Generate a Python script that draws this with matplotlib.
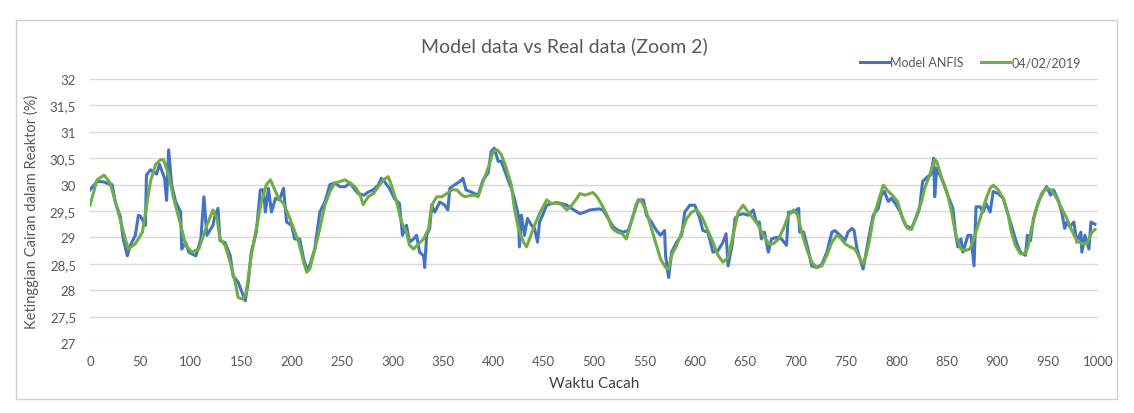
import matplotlib

matplotlib.use("Agg")
import matplotlib.pyplot as plt
from matplotlib.patches import Rectangle
from matplotlib.ticker import FuncFormatter

# Model ANFIS (blue)
model_x = [0, 7, 14, 20, 22, 25, 30, 33, 37, 40, 45, 48, 50, 55, 56, 60, 66, 69, 74, 76, 78, 81,
           85, 90, 91, 95, 98, 105, 110, 113, 116, 122, 124, 127, 129, 134, 139, 142, 147, 152,
           154, 157, 160, 165, 169, 172, 174, 177, 180, 184, 188, 192, 195, 200, 203, 208, 212,
           215, 218, 223, 228, 233, 238, 243, 248, 253, 258, 263, 266, 272, 276, 281, 286, 289,
           292, 297, 302, 307, 310, 314, 317, 321, 324, 327, 331, 332, 334, 337, 339, 342, 347,
           352, 355, 357, 362, 367, 370, 373, 378, 385, 390, 395, 398, 401, 405, 408, 413, 418,
           421, 425, 426, 428, 431, 434, 438, 441, 444, 446, 449, 453, 458, 463, 468, 473, 480,
           486, 491, 496, 505, 509, 514, 519, 524, 529, 534, 539, 544, 549, 552, 557, 562, 566,
           570, 571, 574, 577, 582, 587, 590, 595, 600, 605, 608, 613, 618, 623, 628, 631, 633,
           637, 640, 643, 648, 653, 658, 661, 664, 666, 669, 673, 676, 681, 686, 691, 693, 698,
           703, 704, 708, 713, 716, 721, 726, 731, 736, 739, 744, 749, 752, 756, 758, 761, 764,
           767, 770, 773, 777, 782, 785, 788, 792, 795, 799, 804, 809, 815, 820, 823, 826, 831,
           834, 837, 838, 840, 846, 851, 856, 859, 861, 864, 866, 871, 874, 877, 879, 883, 886,
           889, 893, 896, 901, 906, 911, 916, 919, 923, 928, 930, 933, 936, 941, 946, 949, 953,
           956, 961, 964, 967, 969, 972, 976, 979, 983, 984, 987, 991, 993, 997]
model_y = [29.90, 30.06, 30.05, 30.00, 30.00, 29.67, 29.40, 28.97, 28.65, 28.85, 29.04, 29.42,
           29.40, 29.23, 30.18, 30.28, 30.20, 30.38, 30.12, 29.70, 30.66, 30.00, 29.67, 29.48,
           28.78, 28.90, 28.72, 28.65, 28.97, 29.77, 29.04, 29.23, 29.42, 29.55, 28.94, 28.90,
           28.66, 28.27, 28.15, 27.90, 27.80, 28.15, 28.72, 29.10, 29.90, 29.90, 29.48, 29.93,
           29.48, 29.74, 29.71, 29.93, 29.29, 29.23, 28.97, 28.97, 28.59, 28.40, 28.47, 28.78,
           29.48, 29.67, 30.00, 30.03, 29.96, 29.96, 30.03, 29.90, 29.83, 29.80, 29.86, 29.90,
           29.99, 30.12, 30.06, 29.93, 29.74, 29.64, 29.04, 29.23, 28.91, 28.97, 29.04, 28.72,
           28.65, 28.43, 29.04, 29.17, 29.61, 29.48, 29.67, 29.61, 29.52, 29.93, 30.00, 30.06,
           30.12, 29.90, 29.86, 29.80, 30.09, 30.22, 30.63, 30.69, 30.44, 30.44, 30.18, 29.93,
           29.74, 29.42, 28.82, 29.42, 29.04, 29.36, 29.23, 29.17, 28.91, 29.29, 29.42, 29.61,
           29.64, 29.66, 29.64, 29.61, 29.52, 29.45, 29.48, 29.52, 29.54, 29.52, 29.36, 29.20,
           29.13, 29.10, 29.13, 29.42, 29.71, 29.71, 29.42, 29.29, 29.13, 29.04, 29.13, 28.66,
           28.24, 28.72, 28.91, 29.04, 29.48, 29.61, 29.61, 29.36, 29.13, 29.10, 28.72, 28.75,
           28.91, 29.07, 28.46, 28.85, 29.36, 29.42, 29.45, 29.42, 29.52, 29.29, 29.29, 28.97,
           29.10, 28.72, 28.97, 29.00, 28.97, 28.85, 29.48, 29.48, 29.55, 29.10, 29.10, 28.72,
           28.46, 28.43, 28.49, 28.72, 29.10, 29.13, 29.04, 28.94, 29.10, 29.17, 29.13, 28.78,
           28.59, 28.40, 28.72, 29.04, 29.42, 29.55, 29.80, 29.87, 29.68, 29.74, 29.64, 29.48,
           29.23, 29.17, 29.39, 29.55, 30.06, 30.15, 30.18, 30.50, 29.77, 30.31, 30.06, 29.80,
           29.55, 29.04, 28.82, 28.97, 28.72, 29.04, 29.04, 28.46, 29.58, 29.58, 29.48, 29.64,
           29.48, 29.87, 29.83, 29.74, 29.42, 29.10, 28.91, 28.72, 28.66, 29.04, 28.94, 29.36,
           29.68, 29.87, 29.96, 29.80, 29.90, 29.68, 29.48, 29.17, 29.29, 29.20, 29.29, 28.91,
           29.10, 28.72, 29.04, 28.78, 29.29, 29.25]

# 04/02/2019 real data (green)
real_x = [0, 7, 14, 20, 28, 35, 38, 45, 52, 60, 65, 70, 73, 78, 83, 90, 95, 101, 108, 116, 122,
          126, 129, 134, 139, 144, 147, 152, 155, 160, 165, 170, 175, 179, 182, 187, 192, 197,
          202, 207, 212, 215, 218, 223, 228, 233, 238, 243, 248, 253, 258, 263, 268, 271, 276,
          281, 286, 291, 296, 299, 304, 309, 314, 317, 321, 326, 331, 336, 339, 344, 349, 354,
          359, 364, 369, 372, 377, 382, 385, 390, 395, 400, 404, 408, 413, 418, 421, 425, 430,
          433, 436, 441, 446, 453, 458, 463, 468, 473, 478, 483, 486, 491, 496, 499, 503, 508,
          513, 518, 523, 528, 532, 537, 542, 546, 551, 556, 561, 566, 571, 574, 577, 582, 587,
          592, 597, 602, 607, 612, 618, 623, 628, 633, 638, 643, 648, 653, 658, 663, 668, 673,
          678, 683, 688, 693, 698, 702, 706, 711, 716, 721, 726, 731, 736, 741, 744, 749, 754,
          759, 764, 767, 770, 773, 777, 782, 787, 792, 796, 801, 806, 811, 815, 820, 825, 828,
          833, 838, 840, 845, 850, 854, 859, 864, 868, 873, 878, 883, 888, 893, 896, 901, 906,
          911, 914, 918, 923, 928, 931, 934, 939, 944, 949, 954, 959, 964, 969, 974, 979, 984,
          989, 994, 997]
real_y = [29.61, 30.09, 30.18, 30.03, 29.48, 28.97, 28.78, 28.88, 29.10, 30.06, 30.38, 30.47,
          30.47, 30.18, 29.74, 29.23, 28.85, 28.72, 28.78, 29.23, 29.52, 29.36, 28.97, 28.85,
          28.53, 28.15, 27.86, 27.83, 27.96, 28.66, 29.17, 29.68, 30.00, 30.09, 29.96, 29.74,
          29.64, 29.42, 29.17, 28.91, 28.53, 28.34, 28.40, 28.78, 29.17, 29.61, 29.87, 30.03,
          30.06, 30.09, 30.03, 29.96, 29.80, 29.62, 29.77, 29.83, 29.96, 30.09, 30.15, 29.99,
          29.68, 29.29, 29.10, 28.85, 28.78, 28.88, 28.97, 29.17, 29.61, 29.77, 29.77, 29.83,
          29.90, 29.90, 29.80, 29.77, 29.79, 29.80, 29.77, 30.06, 30.31, 30.63, 30.66, 30.57,
          30.31, 29.99, 29.55, 29.17, 28.91, 28.82, 28.97, 29.23, 29.45, 29.71, 29.64, 29.65,
          29.62, 29.52, 29.61, 29.74, 29.83, 29.80, 29.83, 29.85, 29.77, 29.61, 29.42, 29.17,
          29.10, 29.07, 28.97, 29.29, 29.64, 29.71, 29.55, 29.23, 28.91, 28.59, 28.43, 28.40,
          28.66, 28.85, 29.10, 29.36, 29.48, 29.52, 29.39, 29.17, 28.91, 28.66, 28.53, 28.62,
          29.04, 29.48, 29.61, 29.48, 29.36, 29.23, 29.04, 28.88, 28.88, 28.97, 29.17, 29.42,
          29.52, 29.42, 29.10, 28.78, 28.53, 28.43, 28.46, 28.66, 28.91, 29.04, 29.00, 28.88,
          28.82, 28.78, 28.59, 28.50, 28.66, 28.91, 29.36, 29.68, 29.99, 29.87, 29.80, 29.68,
          29.36, 29.17, 29.15, 29.42, 29.68, 29.93, 30.18, 30.47, 30.44, 30.12, 29.87, 29.55,
          29.04, 28.78, 28.75, 28.78, 29.04, 29.36, 29.68, 29.93, 29.99, 29.90, 29.74, 29.42,
          29.10, 28.85, 28.69, 28.69, 28.85, 29.17, 29.55, 29.83, 29.93, 29.90, 29.74, 29.55,
          29.36, 29.13, 28.94, 28.88, 28.88, 29.10, 29.15]

y_ticks = [27, 27.5, 28, 28.5, 29, 29.5, 30, 30.5, 31, 31.5, 32]
x_ticks = list(range(0, 1001, 50))

TEXT = "#595959"
GRID = "#d9d9d9"

plt.rcParams["font.family"] = ["Lato", "DejaVu Sans"]

fig = plt.figure(figsize=(11.34, 4.14), dpi=100)
ax = fig.add_axes([90 / 1134, 1 - 344 / 414, (1098 - 90) / 1134, (344 - 80) / 414])

ax.plot(model_x, model_y, color="#4472C4", lw=2.2, label="Model ANFIS", zorder=3)
ax.plot(real_x, real_y, color="#70AD47", lw=2.2, label="04/02/2019", zorder=4)

ax.set_xlim(0, 1000)
ax.set_ylim(27, 32)
ax.set_xticks(x_ticks)
ax.set_yticks(y_ticks)
ax.yaxis.set_major_formatter(FuncFormatter(lambda v, _: f"{v:g}".replace(".", ",")))
ax.grid(axis="y", color=GRID, lw=1.0)
ax.set_axisbelow(True)
for s in ax.spines.values():
    s.set_visible(False)
ax.tick_params(length=0, colors=TEXT, labelsize=9.5)
ax.tick_params(axis="x", pad=9)
ax.tick_params(axis="y", pad=10)

ax.set_xlabel("Waktu Cacah", fontsize=11, color="#404040", labelpad=6)
ax.set_ylabel("Ketinggian Cairan dalam Reaktor (%)", fontsize=10.5, color=TEXT, labelpad=8)

fig.text(0.498, 1 - 46 / 414, "Model data vs Real data (Zoom 2)", ha="center", va="center",
         fontsize=14, color=TEXT)
fig.legend(loc="center right", bbox_to_anchor=(1092 / 1134, 1 - 63 / 414), ncol=2,
           frameon=False, fontsize=9, labelcolor=TEXT, handlelength=2.3, handletextpad=0.1,
           columnspacing=1.4)

fig.add_artist(Rectangle((16 / 1134, 1 - 400 / 414), (1117 - 16) / 1134, (400 - 21) / 414,
                         transform=fig.transFigure, fill=False, ec="#d0d0d0", lw=1.0))

fig.savefig("out.png", dpi=100)
